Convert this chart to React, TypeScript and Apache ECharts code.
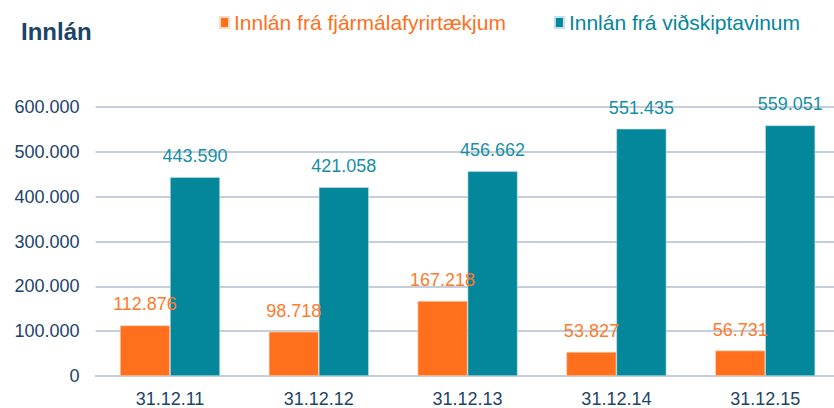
import React, { useEffect, useRef } from "react";
import * as echarts from "echarts";

const categories = ["31.12.11", "31.12.12", "31.12.13", "31.12.14", "31.12.15"];
const fjarmalafyrirtaekjum = [112876, 98718, 167218, 53827, 56731];
const vidskiptavinum = [443590, 421058, 456662, 551435, 559051];
const seriesNames = ["Innlán frá fjármálafyrirtækjum", "Innlán frá viðskiptavinum"];
const titleText = "Innlán";

const ORANGE = "#ff6f1c";
const TEAL = "#04869b";
const NAVY = "#1b4469";
const FONT = "Liberation Sans, Arial, sans-serif";

const fmt = (v: number) => {
  const s = Math.round(v).toString();
  return s.replace(/\B(?=(\d{3})+(?!\d))/g, ".");
};

export default function App() {
  const ref = useRef<HTMLDivElement>(null);
  useEffect(() => {
    if (!ref.current) return;
    const chart = echarts.init(ref.current, undefined, { renderer: "svg" });
    chart.setOption({
      animation: false,
      backgroundColor: "#ffffff",
      title: {
        text: titleText,
        left: 16,
        top: 14,
        textStyle: { color: NAVY, fontSize: 24, fontWeight: "bold", fontFamily: FONT },
      },
      legend: {
        left: 214,
        top: 7,
        itemWidth: 9,
        itemHeight: 11,
        itemGap: 48,
        icon: "rect",
        data: [
          { name: seriesNames[0], textStyle: { color: ORANGE } },
          { name: seriesNames[1], textStyle: { color: TEAL } },
        ],
        textStyle: { fontSize: 21, fontFamily: FONT },
      },
      grid: { left: 95.6, width: 744, top: 107, height: 270, containLabel: false },
      xAxis: {
        type: "category",
        data: categories,
        axisTick: { show: false },
        axisLine: { lineStyle: { color: "#c6ceda", width: 2 } },
        axisLabel: { color: NAVY, fontSize: 18, fontFamily: FONT, margin: 14 },
      },
      yAxis: {
        type: "value",
        min: 0,
        max: 600000,
        interval: 100000,
        axisLine: { show: false },
        axisTick: { show: false },
        splitLine: { lineStyle: { color: "#c6ceda", width: 2 } },
        axisLabel: {
          color: NAVY,
          fontSize: 18,
          fontFamily: FONT,
          margin: 16,
          formatter: (v: number) => fmt(v),
        },
      },
      series: [
        {
          name: seriesNames[0],
          type: "bar",
          data: fjarmalafyrirtaekjum,
          barWidth: 50,
          barGap: "0%",
          itemStyle: { color: ORANGE, borderColor: "#ffd9c2", borderWidth: 0.6 },
          label: {
            show: true,
            position: "top",
            distance: 12,
            color: "#ff7a2c",
            fontSize: 18,
            fontFamily: FONT,
            formatter: (p: any) => fmt(p.value),
          },
          z: 2,
        },
        {
          name: seriesNames[1],
          type: "bar",
          data: vidskiptavinum,
          barWidth: 50,
          barGap: "0%",
          itemStyle: { color: TEAL, borderColor: "#bfe3ea", borderWidth: 0.6 },
          label: {
            show: true,
            position: "top",
            distance: 12,
            color: "#168fa6",
            fontSize: 18,
            fontFamily: FONT,
            formatter: (p: any) => fmt(p.value),
          },
          z: 2,
        },
      ],
    });
    return () => chart.dispose();
  }, []);
  return (
    <div
      style={{
        position: "absolute",
        left: 0,
        top: 0,
        width: 834,
        height: 408,
        overflow: "hidden",
        background: "#ffffff",
      }}
    >
      <div ref={ref} style={{ width: 846, height: 408 }} />
    </div>
  );
}
